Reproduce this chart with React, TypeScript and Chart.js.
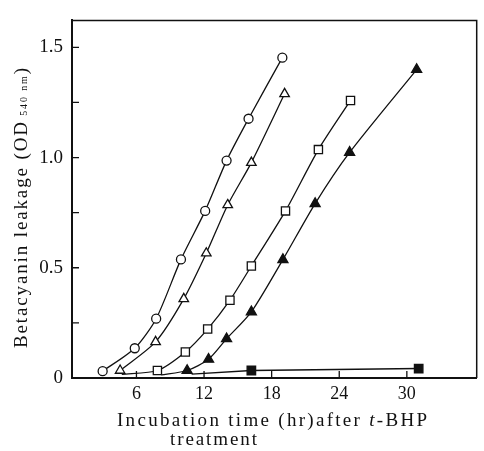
import React, { useEffect, useRef } from "react";
import { Chart, registerables } from "chart.js";

Chart.register(...registerables);

// ---- data ----
const circleX = [3.0, 5.85, 7.75, 9.95, 12.1, 14.0, 15.95, 18.95];
const circleY = [0.031, 0.135, 0.269, 0.538, 0.758, 0.986, 1.176, 1.453];

const openTriX = [4.55, 7.7, 10.2, 12.2, 14.1, 16.2, 19.15];
const openTriY = [0.034, 0.164, 0.359, 0.566, 0.785, 0.977, 1.289];

const openSqX = [4.7, 7.86, 10.34, 12.32, 14.3, 16.2, 19.23, 22.15, 25.0];
const openSqY = [0.016, 0.034, 0.118, 0.222, 0.353, 0.508, 0.758, 1.036, 1.259];

const filledTriX = [8.2, 10.5, 12.4, 14.0, 16.2, 19.0, 21.86, 24.92, 30.87];
const filledTriY = [0.014, 0.034, 0.085, 0.178, 0.3, 0.537, 0.791, 1.023, 1.399];

const filledSqX = [10.9, 16.2, 31.05];
const filledSqY = [0.018, 0.034, 0.043];

const xTickValues = [6, 12, 18, 24, 30];
const yTickValues = [0, 0.25, 0.5, 0.75, 1.0, 1.25, 1.5];
const yTickLabels: Record<string, string> = { "0": "0", "0.5": "0.5", "1": "1.0", "1.5": "1.5" };

const xTitleLine1 = [
  { t: "Incubation time (hr)after ", italic: false },
  { t: "t", italic: true },
  { t: "-BHP", italic: false },
];
const xTitleLine2 = "treatment";
const yTitleMain = "Betacyanin leakage (OD";
const yTitleSub = "540 nm";
const yTitleEnd = ")";

const SERIF = "'Liberation Serif', 'DejaVu Serif', serif";

function pts(xs: number[], ys: number[]) {
  return xs.map((x, i) => ({ x, y: ys[i] }));
}

type Seg = { t: string; size: number; italic?: boolean; dy?: number };

function drawSpaced(ctx: CanvasRenderingContext2D, segs: Seg[], x0: number, y0: number, target: number) {
  let natural = 0;
  let count = 0;
  for (const s of segs) {
    ctx.font = `${s.italic ? "italic " : ""}${s.size}px ${SERIF}`;
    for (const ch of s.t) {
      natural += ctx.measureText(ch).width;
      count++;
    }
  }
  const sp = count > 1 ? (target - natural) / (count - 1) : 0;
  let x = x0;
  for (const s of segs) {
    ctx.font = `${s.italic ? "italic " : ""}${s.size}px ${SERIF}`;
    for (const ch of s.t) {
      ctx.fillText(ch, x, y0 + (s.dy || 0));
      x += ctx.measureText(ch).width + sp;
    }
  }
}

const decorPlugin = {
  id: "decor",
  afterDraw(chart: any) {
    const ctx: CanvasRenderingContext2D = chart.ctx;
    const { left, right, top, bottom } = chart.chartArea;
    const xs = chart.scales.x;
    const ys = chart.scales.y;
    ctx.save();
    ctx.strokeStyle = "#111";
    ctx.fillStyle = "#111";
    // frame top & right
    ctx.lineWidth = 1.5;
    ctx.beginPath();
    ctx.moveTo(left, top);
    ctx.lineTo(right, top);
    ctx.lineTo(right, bottom);
    ctx.stroke();
    // inward ticks
    ctx.lineWidth = 1.3;
    ctx.beginPath();
    for (const v of xTickValues) {
      const px = xs.getPixelForValue(v);
      ctx.moveTo(px, bottom);
      ctx.lineTo(px, bottom - 7);
    }
    for (const v of yTickValues) {
      const py = ys.getPixelForValue(v);
      ctx.moveTo(left, py);
      ctx.lineTo(left + 7, py);
    }
    ctx.stroke();
    // x title
    ctx.textBaseline = "alphabetic";
    ctx.textAlign = "left";
    drawSpaced(
      ctx,
      xTitleLine1.map((s) => ({ t: s.t, size: 19, italic: s.italic })),
      117,
      426,
      310
    );
    drawSpaced(ctx, [{ t: xTitleLine2, size: 19 }], 170, 445, 87);
    // y title (rotated)
    ctx.translate(27, 348);
    ctx.rotate(-Math.PI / 2);
    drawSpaced(
      ctx,
      [
        { t: yTitleMain, size: 19 },
        { t: " " + yTitleSub, size: 10 },
        { t: yTitleEnd, size: 19 },
      ],
      0,
      0,
      280
    );
    ctx.restore();
  },
};

export default function App() {
  const ref = useRef<HTMLCanvasElement>(null);
  useEffect(() => {
    if (!ref.current) return;
    const common = { borderColor: "#111", borderWidth: 1.3, tension: 0.25, pointBorderWidth: 1.3, showLine: true };
    const chart = new Chart(ref.current, {
      type: "scatter",
      data: {
        datasets: [
          {
            ...common,
            data: pts(circleX, circleY),
            pointStyle: "circle",
            pointRadius: 4.5,
            pointBackgroundColor: "#fff",
            pointBorderColor: "#111",
          },
          {
            ...common,
            data: pts(openTriX, openTriY),
            pointStyle: "triangle",
            pointRadius: 5.5,
            pointBackgroundColor: "#fff",
            pointBorderColor: "#111",
          },
          {
            ...common,
            data: pts(openSqX, openSqY),
            pointStyle: "rect",
            pointRadius: openSqX.map((_, i) => (i === 0 ? 0 : 5.8)),
            pointBackgroundColor: "#fff",
            pointBorderColor: "#111",
          },
          {
            ...common,
            data: pts(filledTriX, filledTriY),
            pointStyle: "triangle",
            pointRadius: filledTriX.map((_, i) => (i === 0 ? 0 : 5.8)),
            pointBackgroundColor: "#111",
            pointBorderColor: "#111",
          },
          {
            ...common,
            tension: 0,
            data: pts(filledSqX, filledSqY),
            pointStyle: "rect",
            pointRadius: filledSqX.map((_, i) => (i === 0 ? 0 : 6)),
            pointBackgroundColor: "#111",
            pointBorderColor: "#111",
          },
        ],
      },
      options: {
        responsive: false,
        animation: false,
        layout: { padding: { top: 12, right: 1, left: 0, bottom: 0 } },
        plugins: { legend: { display: false }, tooltip: { enabled: false }, title: { display: false } },
        scales: {
          x: {
            type: "linear",
            min: 0.28,
            max: 36.2,
            afterFit: (s: any) => {
              s.height = 73;
            },
            afterBuildTicks: (s: any) => {
              s.ticks = xTickValues.map((v) => ({ value: v }));
            },
            grid: { display: false, drawTicks: false },
            border: { display: true, color: "#111", width: 2 },
            ticks: {
              padding: 5,
              color: "#111",
              font: { family: SERIF, size: 18 },
              callback: (v: any) => String(v),
            },
          },
          y: {
            type: "linear",
            min: 0,
            max: 1.622,
            afterFit: (s: any) => {
              s.width = 72;
            },
            afterBuildTicks: (s: any) => {
              s.ticks = yTickValues.map((v) => ({ value: v }));
            },
            grid: { display: false, drawTicks: false },
            border: { display: true, color: "#111", width: 2 },
            ticks: {
              padding: 9,
              color: "#111",
              font: { family: SERIF, size: 19 },
              callback: (v: any) => yTickLabels[String(v)] ?? "",
            },
          },
        },
      },
      plugins: [decorPlugin],
    });
    return () => chart.destroy();
  }, []);
  return (
    <div style={{ position: "fixed", left: 0, top: 0, width: 484, height: 451, background: "#fff" }}>
      <canvas ref={ref} width={484} height={451} />
    </div>
  );
}
